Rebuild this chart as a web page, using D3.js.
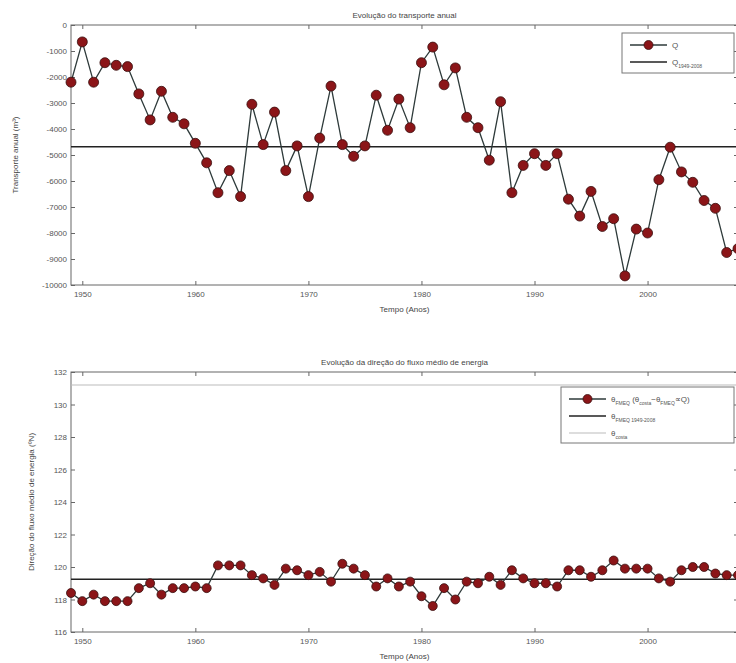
<!DOCTYPE html>
<html>
<head>
<meta charset="utf-8">
<script src="https://cdn.jsdelivr.net/npm/d3@7"></script>
<style>
  body { margin: 0; background: #fff; }
  svg { display: block; font-family: "Liberation Sans", Arial, sans-serif; }
  .tick text { fill: #555; font-size: 8px; }
</style>
</head>
<body>
<div id="chart"></div>
<script>
// years 1949..2008
var years = d3.range(1949, 2009);

// annual transport Q (m3)
var transport = [-2200, -650, -2200, -1450, -1550, -1600, -2650, -3650, -2550, -3550,
  -3800, -4550, -5300, -6450, -5600, -6600, -3050, -4600, -3350, -5600,
  -4650, -6600, -4350, -2350, -4600, -5050, -4650, -2700, -4050, -2850,
  -3950, -1450, -850, -2300, -1650, -3550, -3950, -5200, -2950, -6450,
  -5400, -4950, -5400, -4950, -6700, -7350, -6400, -7750, -7450, -9650,
  -7850, -8000, -5950, -4700, -5650, -6050, -6750, -7050, -8750, -8600];
var transportMean = -4680;

// mean energy flux direction (degrees N)
var direction = [118.4, 117.9, 118.3, 117.9, 117.9, 117.9, 118.7, 119.0, 118.3, 118.7,
  118.7, 118.8, 118.7, 120.1, 120.1, 120.1, 119.5, 119.3, 118.9, 119.9,
  119.8, 119.5, 119.7, 119.1, 120.2, 119.9, 119.5, 118.8, 119.3, 118.8,
  119.1, 118.2, 117.6, 118.7, 118.0, 119.1, 119.0, 119.4, 118.9, 119.8,
  119.3, 119.0, 119.0, 118.8, 119.8, 119.8, 119.4, 119.8, 120.4, 119.9,
  119.9, 119.9, 119.3, 119.1, 119.8, 120.0, 120.0, 119.6, 119.5, 119.5];
var directionMean = 119.25;
var costa = 131.2;

var topTicks = d3.range(0, -10001, -1000);
var botTicks = d3.range(116, 133, 2);
var xTicks = [1950, 1960, 1970, 1980, 1990, 2000];

var W = 736, H = 663;
var svg = d3.select("#chart").append("svg").attr("width", W).attr("height", H);

var x = d3.scaleLinear().domain([1949, 2008]).range([71, 738]);

var lineCol = "#2e3a3a", dotFill = "#8b1518", dotStroke = "#3a1010";

function panel(opt) {
  var y = d3.scaleLinear().domain(opt.domain).range([opt.bottom, opt.top]);
  var g = svg.append("g");

  // axis box
  g.append("rect").attr("x", x.range()[0]).attr("y", opt.top)
    .attr("width", x.range()[1] - x.range()[0]).attr("height", opt.bottom - opt.top)
    .attr("fill", "none").attr("stroke", "#666").attr("stroke-width", 1);

  // inward ticks, all four sides
  g.append("g").attr("transform", "translate(0," + opt.bottom + ")")
    .call(d3.axisTop(x).tickValues(xTicks).tickSize(4).tickFormat(""))
    .call(s => s.select(".domain").remove());
  g.append("g").attr("transform", "translate(0," + opt.bottom + ")")
    .call(d3.axisBottom(x).tickValues(xTicks).tickSize(0).tickPadding(6).tickFormat(d => String(d)))
    .call(s => s.select(".domain").remove());
  g.append("g").attr("transform", "translate(0," + opt.top + ")")
    .call(d3.axisBottom(x).tickValues(xTicks).tickSize(4).tickFormat(""))
    .call(s => s.select(".domain").remove());
  g.append("g").attr("transform", "translate(" + x.range()[0] + ",0)")
    .call(d3.axisRight(y).tickValues(opt.ticks).tickSize(4).tickFormat(""))
    .call(s => s.select(".domain").remove());
  g.append("g").attr("transform", "translate(" + x.range()[0] + ",0)")
    .call(d3.axisLeft(y).tickValues(opt.ticks).tickSize(0).tickPadding(4).tickFormat(d => String(d)))
    .call(s => s.select(".domain").remove());
  g.append("g").attr("transform", "translate(" + x.range()[1] + ",0)")
    .call(d3.axisLeft(y).tickValues(opt.ticks).tickSize(4).tickFormat(""))
    .call(s => s.select(".domain").remove());
  g.selectAll(".tick line").attr("stroke", "#666");

  if (opt.extra != null) {
    g.append("line").attr("x1", x.range()[0]).attr("x2", x.range()[1])
      .attr("y1", y(opt.extra)).attr("y2", y(opt.extra))
      .attr("stroke", "#bbb").attr("stroke-width", 1);
  }

  g.append("line").attr("x1", x.range()[0]).attr("x2", x.range()[1])
    .attr("y1", y(opt.mean)).attr("y2", y(opt.mean))
    .attr("stroke", "#222").attr("stroke-width", 1.6);

  var line = d3.line().x((d, i) => x(years[i])).y(d => y(d));
  g.append("path").datum(opt.values).attr("d", line)
    .attr("fill", "none").attr("stroke", lineCol).attr("stroke-width", 1.3);
  g.selectAll("circle.pt").data(opt.values).enter().append("circle")
    .attr("class", "pt")
    .attr("cx", (d, i) => x(years[i])).attr("cy", d => y(d))
    .attr("r", opt.r).attr("fill", dotFill).attr("stroke", dotStroke).attr("stroke-width", 0.8);

  // labels
  var cx = (x.range()[0] + x.range()[1]) / 2;
  g.append("text").attr("x", cx).attr("y", opt.top - 7).attr("text-anchor", "middle")
    .attr("font-size", 8).attr("fill", "#444").text(opt.title);
  g.append("text").attr("x", cx).attr("y", opt.bottom + 27).attr("text-anchor", "middle")
    .attr("font-size", 8).attr("fill", "#444").text("Tempo (Anos)");
  g.append("text").attr("transform", "translate(" + opt.ylabX + "," + ((opt.top + opt.bottom) / 2) + ") rotate(-90)")
    .attr("text-anchor", "middle").attr("font-size", 8).attr("fill", "#444").text(opt.ylabel);
  return y;
}

panel({
  top: 25, bottom: 285, domain: [-10000, 0], ticks: topTicks,
  values: transport, mean: transportMean, r: 5,
  title: "Evolução do transporte anual",
  ylabel: "Transporte anual (m³)", ylabX: 18
});

panel({
  top: 372, bottom: 632, domain: [116, 132], ticks: botTicks,
  values: direction, mean: directionMean, extra: costa, r: 4.5,
  title: "Evolução da direção do fluxo médio de energia",
  ylabel: "Direção do fluxo médio de energia (ºN)", ylabX: 34
});

// legends
function legend(x0, y0, w, h, items) {
  var g = svg.append("g").attr("transform", "translate(" + x0 + "," + y0 + ")");
  g.append("rect").attr("width", w).attr("height", h).attr("fill", "#fff").attr("stroke", "#777");
  items.forEach(function (it, i) {
    var yy = 12 + i * 17;
    g.append("line").attr("x1", 8).attr("x2", 45).attr("y1", yy).attr("y2", yy)
      .attr("stroke", it.color).attr("stroke-width", it.w);
    if (it.dot) g.append("circle").attr("cx", 26.5).attr("cy", yy).attr("r", 4.5)
      .attr("fill", dotFill).attr("stroke", dotStroke).attr("stroke-width", 0.8);
    var t = g.append("text").attr("x", 50).attr("y", yy + 3).attr("font-size", 8).attr("fill", "#555");
    it.parts.forEach(function (p) {
      var ts = t.append("tspan").text(p[0]);
      if (p[1]) ts.attr("font-size", 5).attr("dy", 3);
      else ts.attr("dy", p[2] ? -3 : 0);
    });
  });
}

legend(622, 33, 112, 40, [
  {color: lineCol, w: 1.3, dot: true, parts: [["Q"]]},
  {color: "#222", w: 1.6, parts: [["Q"], ["1949-2008", true]]}
]);

legend(561, 387, 173, 56, [
  {color: lineCol, w: 1.3, dot: true,
   parts: [["θ"], ["FMEQ", true], [" (θ", false, true], ["costa", true], ["−θ", false, true], ["FMEQ", true], ["∝Q)", false, true]]},
  {color: "#222", w: 1.6, parts: [["θ"], ["FMEQ 1949-2008", true]]},
  {color: "#bbb", w: 1, parts: [["θ"], ["costa", true]]}
]);
</script>
</body>
</html>
